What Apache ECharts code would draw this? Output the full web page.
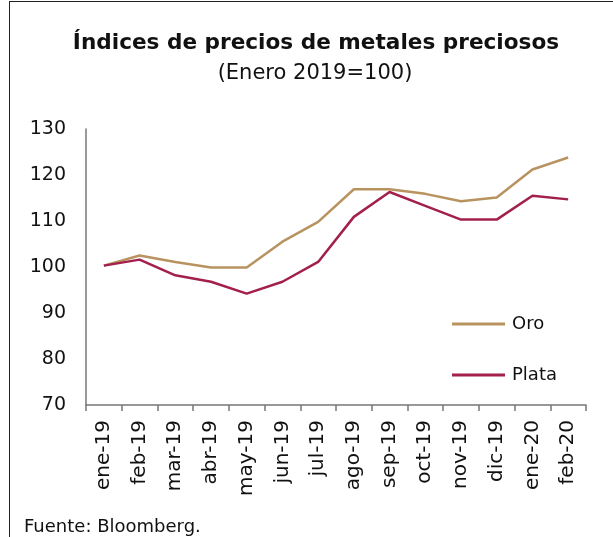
<!DOCTYPE html>
<html>
<head>
<meta charset="utf-8">
<script src="https://cdn.jsdelivr.net/npm/echarts@6/dist/echarts.min.js"></script>
<style>
  html, body { margin:0; padding:0; background:#fff; }
  #frame { position:absolute; left:9px; top:1px; width:604px; height:536px; border-left:1.5px solid #222; border-top:1.5px solid #222; }
  #chart { width:613px; height:537px; }
</style>
</head>
<body>
<div id="frame"></div>
<div id="chart"></div>
<script>
// months, Jan 2019 to Feb 2020
const months = ['ene-19','feb-19','mar-19','abr-19','may-19','jun-19','jul-19','ago-19','sep-19','oct-19','nov-19','dic-19','ene-20','feb-20']
const oro   = [100.3, 102.5, 101.1, 99.9, 99.9, 105.5, 109.8, 116.9, 116.9, 115.9, 114.3, 115.1, 121.2, 123.8]
const plata = [100.3, 101.6, 98.2, 96.8, 94.2, 96.8, 101.1, 110.9, 116.3, 113.3, 110.3, 110.3, 115.5, 114.7]

const font = '"DejaVu Sans", sans-serif'
const chart = echarts.init(document.getElementById('chart'))

chart.setOption({
  backgroundColor: 'transparent',
  animation: false,
  title: [
    { text: 'Índices de precios de metales preciosos', left: 311, top: 27, textAlign: 'center',
      textStyle: { fontFamily: font, fontSize: 21.6, fontWeight: 'bold', color: '#111' } },
    { text: '(Enero 2019=100)', left: 310, top: 58, textAlign: 'center',
      textStyle: { fontFamily: font, fontSize: 21, fontWeight: 'normal', color: '#111' } },
    { text: 'Fuente: Bloomberg.', left: 19, top: 513,
      textStyle: { fontFamily: font, fontSize: 18, fontWeight: 'normal', color: '#111' } }
  ],
  legend: {
    orient: 'vertical', left: 447, top: 310, itemGap: 33,
    itemWidth: 53, itemHeight: 3, icon: 'rect',
    textStyle: { fontFamily: font, fontSize: 18, color: '#111', padding: [0, 0, 0, 2] },
    data: ['Oro', 'Plata']
  },
  grid: { left: 86, right: 27, top: 129, bottom: 132 },
  xAxis: {
    type: 'category', data: months, boundaryGap: true,
    axisLine: { lineStyle: { color: '#777', width: 1.5 } },
    axisTick: { show: true, length: 6, lineStyle: { color: '#777', width: 1.5 } },
    axisLabel: { rotate: 90, interval: 0, margin: 15, fontFamily: font, fontSize: 20, color: '#111' }
  },
  yAxis: {
    type: 'value', min: 70, max: 130, interval: 10,
    axisLine: { show: true, lineStyle: { color: '#777', width: 1.5 } },
    axisTick: { show: false },
    splitLine: { show: false },
    axisLabel: { margin: 20, fontFamily: font, fontSize: 19, color: '#111' }
  },
  series: [
    { name: 'Oro', type: 'line', data: oro, symbol: 'none',
      lineStyle: { color: '#b8935f', width: 2.5 }, itemStyle: { color: '#b8935f' } },
    { name: 'Plata', type: 'line', data: plata, symbol: 'none',
      lineStyle: { color: '#a21f4e', width: 2.5 }, itemStyle: { color: '#a21f4e' } }
  ]
})
</script>
</body>
</html>
